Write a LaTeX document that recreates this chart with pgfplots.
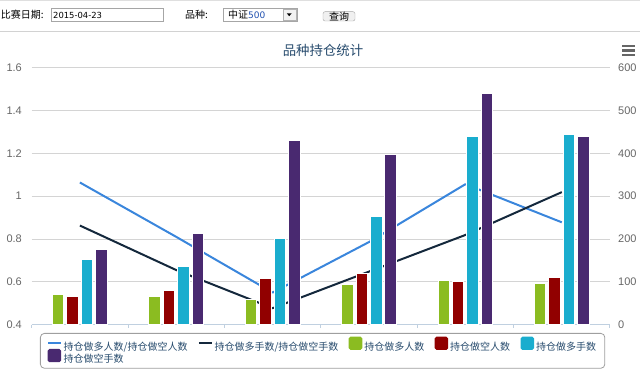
\documentclass[border=0pt]{standalone}
\usepackage{pgfplots}
\pgfplotsset{compat=1.18}
\usepackage{fontspec}
\setmainfont{Noto Sans CJK SC}
\newfontfamily\numfont{Liberation Sans}
\newfontfamily\dvfont{DejaVu Sans}
\definecolor{hcblue}{HTML}{3A86DC}
\definecolor{hcdark}{HTML}{14283C}
\definecolor{hcgreen}{HTML}{8BBC21}
\definecolor{hcred}{HTML}{910000}
\definecolor{hccyan}{HTML}{1AADCE}
\definecolor{hcpurple}{HTML}{492970}
\definecolor{titlec}{HTML}{274B6D}
\definecolor{gridc}{HTML}{D4D4D4}
\definecolor{axisc}{HTML}{C0D0E0}
\definecolor{labc}{HTML}{666666}
\definecolor{sel}{HTML}{2050B0}
\begin{document}
\begin{tikzpicture}
\begin{scope}[x=1pt,y=1pt]
% top strip
\fill[gray!25] (0,380.6) rectangle (640,382);
% controls
\node[anchor=west, inner sep=0, font=\fontsize{10}{12}\selectfont] at (0.7,367) {比赛日期:};
\draw[gray!70, fill=white] (50.7,360.3) rectangle (162.7,373.7);
\node[anchor=west, inner sep=0, font=\dvfont\fontsize{8.4}{10}\selectfont] at (53,367) {2015-04-23};
\node[anchor=west, inner sep=0, font=\fontsize{10}{12}\selectfont] at (185,367) {品种:};
\draw[gray!70, fill=white] (222.7,360.3) rectangle (296.7,373.7);
\draw[gray!60, fill=gray!10] (282.7,361.3) rectangle (295.7,372.7);
\fill[black] (286.8,368.6) -- (291.6,368.6) -- (289.2,365.8) -- cycle;
\node[anchor=west, inner sep=0, font=\fontsize{10}{12}\selectfont] at (228,367) {中证{\color{sel}\dvfont\fontsize{9}{11}\selectfont 500}};
\draw[gray!70, fill=gray!12, rounded corners=2] (323,361) rectangle (355,370.3);
\node[inner sep=0, font=\fontsize{10}{12}\selectfont] at (339,365.7) {查询};
% separator
\draw[gray!35, line width=1.3] (0,350.3) -- (640,350.3);
% title
\node[font=\fontsize{13.4}{16}\selectfont, text=titlec, inner sep=0] at (323,331.2) {品种持仓统计};
% menu icon
\foreach \yy in {336,331.5,327} \draw[labc, line width=2.4] (622,\yy) -- (635,\yy);
\end{scope}

% line axis (left)
\begin{axis}[
  at={(31.7pt,57.3pt)}, anchor=south west, scale only axis,
  width=578.3pt, height=257pt,
  xmin=-0.5, xmax=5.5, ymin=0.4, ymax=1.6,
  ytick={0.4,0.6,0.8,1,1.2,1.4,1.6},
  /pgf/number format/assume math mode=true,
  ymajorgrids, grid style={gridc, line width=1pt},
  axis x line*=bottom, axis y line*=left,
  y axis line style={draw=none},
  x axis line style={axisc, line width=1pt, -},
  xtick={-0.5,0.5,1.5,2.5,3.5,4.5,5.5}, xticklabels={,,,,,,},
  xtick style={axisc, line width=1pt}, major tick length=3pt, tick align=outside,
  ytick style={draw=none},
  yticklabel style={font=\numfont\fontsize{11}{13}\selectfont, text=labc, inner xsep=0pt, xshift=-6.7pt},
]
\addplot[hcblue, line width=2pt, line join=round] coordinates {(0,1.064) (1,0.810) (2,0.550) (3,0.786) (4,1.056) (5,0.878)};
\addplot[hcdark, line width=2pt, line join=round] coordinates {(0,0.863) (1,0.655) (2,0.477) (3,0.648) (4,0.819) (5,1.019)};
\end{axis}

% bar axis (right)
\begin{axis}[
  at={(31.7pt,57.3pt)}, anchor=south west, scale only axis,
  width=578.3pt, height=257pt,
  xmin=-0.5, xmax=5.5, ymin=0, ymax=600,
  axis x line=none, axis y line*=right,
  y axis line style={draw=none},
  ytick={0,100,200,300,400,500,600},
  /pgf/number format/assume math mode=true,
  ytick style={draw=none},
  yticklabel style={font=\numfont\fontsize{11}{13}\selectfont, text=labc, inner xsep=0pt, xshift=8pt},
  legend columns=5, legend cell align=left,
  legend style={at={(0.01435,-0.0323)}, anchor=north west, draw=gray!75, line width=0.8pt,
    rounded corners=4pt, fill=white, inner xsep=6.7pt, inner ysep=3.3pt, row sep=-3.7pt,
    nodes={inner xsep=2pt, inner ysep=0.6pt, text=titlec, font=\fontsize{10}{12}\selectfont},
    /tikz/every even column/.append style={column sep=8.3pt}},
]
\addlegendimage{legend image code/.code={\draw[hcblue, line width=2pt] (0pt,3.8pt) -- (12.6pt,3.8pt);}}
\addlegendentry{持仓做多人数/持仓做空人数}
\addlegendimage{legend image code/.code={\draw[hcdark, line width=2pt] (0pt,3.8pt) -- (12.6pt,3.8pt);}}
\addlegendentry{持仓做多手数/持仓做空手数}
\addplot[ybar, bar width=0.119, bar shift=-0.225, fill=hcgreen, draw=white, line width=1pt,
  legend image code/.code={\fill[hcgreen, rounded corners=1.5pt] (0pt,-2.3pt) rectangle (12.6pt,9.9pt);}]
  coordinates {(0,71) (1,65) (2,58) (3,93) (4,104) (5,96)};
\addlegendentry{持仓做多人数}
\addplot[ybar, bar width=0.119, bar shift=-0.075, fill=hcred, draw=white, line width=1pt,
  legend image code/.code={\fill[hcred, rounded corners=1.5pt] (0pt,-2.3pt) rectangle (12.6pt,9.9pt);}]
  coordinates {(0,66) (1,80) (2,108) (3,120) (4,100) (5,111)};
\addlegendentry{持仓做空人数}
\addplot[ybar, bar width=0.119, bar shift=0.075, fill=hccyan, draw=white, line width=1pt,
  legend image code/.code={\fill[hccyan, rounded corners=1.5pt] (0pt,-2.3pt) rectangle (12.6pt,9.9pt);}]
  coordinates {(0,153) (1,135) (2,202) (3,253) (4,439) (5,445)};
\addlegendentry{持仓做多手数}
\addplot[ybar, bar width=0.119, bar shift=0.225, fill=hcpurple, draw=white, line width=1pt,
  legend image code/.code={\fill[hcpurple, rounded corners=1.5pt] (0pt,-2.3pt) rectangle (12.6pt,9.9pt);}]
  coordinates {(0,176) (1,212) (2,429) (3,398) (4,539) (5,439)};
\addlegendentry{持仓做空手数}
\end{axis}
\pgfresetboundingbox
\path[use as bounding box] (0pt,0pt) rectangle (640pt,382pt);
\end{tikzpicture}
\end{document}
